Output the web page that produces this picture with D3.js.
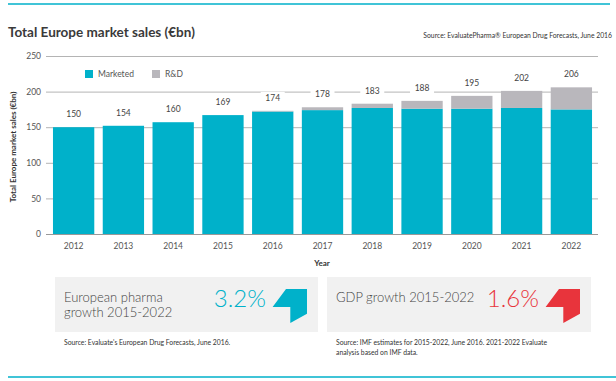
<!DOCTYPE html>
<html>
<head>
<meta charset="utf-8">
<script src="https://cdn.jsdelivr.net/npm/d3@7"></script>
<style>
  body { margin: 0; background: #fff; }
  svg { display: block; font-family: Lato, "Open Sans", sans-serif; }
</style>
</head>
<body>
<svg id="chart" width="616" height="381"></svg>
<script>
const years = ['2012','2013','2014','2015','2016','2017','2018','2019','2020','2021','2022'];
const marketed = [150, 152, 157, 167, 172, 174, 177, 176, 176, 177, 175];
const rnd = [0, 0, 0, 0, 1, 4, 6, 11, 18, 24, 31];
const totals = [150, 154, 160, 169, 174, 178, 183, 188, 195, 202, 206];
const yTicks = [0, 50, 100, 150, 200, 250];
const seriesNames = ['Marketed', 'R&D'];
const colors = ['#00b1ca', '#b9b7bc'];

const svg = d3.select('#chart');

// top and bottom rules
svg.append('line').attr('x1', 8).attr('x2', 610).attr('y1', 4).attr('y2', 4)
  .attr('stroke', '#00b1ca').attr('stroke-width', 1.5);
svg.append('line').attr('x1', 8).attr('x2', 616).attr('y1', 377).attr('y2', 377)
  .attr('stroke', '#00b1ca').attr('stroke-width', 1.5);

svg.append('text').attr('x', 8).attr('y', 37)
  .style('font-size', '13.5px').style('font-weight', 'bold').attr('fill', '#3a3a3a')
  .text('Total Europe market sales (€bn)');
svg.append('text').attr('x', 612).attr('y', 37.5).attr('text-anchor', 'end')
  .style('font-size', '6.8px').attr('fill', '#333')
  .text('Source: EvaluatePharma® European Drug Forecasts, June 2016');

const x = d3.scaleBand().domain(years).range([47, 598])
  .paddingInner(0.17).paddingOuter(0.12);
const y = d3.scaleLinear().domain([0, 250]).range([234, 56]);

const yAxis = d3.axisLeft(y).tickValues(yTicks).tickSize(-(598 - 46)).tickPadding(5);
const gy = svg.append('g').attr('transform', 'translate(46,0)').call(yAxis);
gy.select('.domain').remove();
gy.selectAll('line').attr('stroke', '#b4b4b4');
gy.selectAll('text').attr('fill', '#555').style('font-size', '8.5px')
  .style('font-family', 'Lato, sans-serif');

const stack = d3.stack().keys([0, 1])(years.map((yr, i) => [marketed[i], rnd[i]]));
svg.append('g').selectAll('g').data(stack).join('g')
  .attr('fill', (d, i) => colors[i])
  .selectAll('rect').data(d => d).join('rect')
  .attr('x', (d, i) => x(years[i]))
  .attr('width', x.bandwidth())
  .attr('y', d => y(d[1]))
  .attr('height', d => y(d[0]) - y(d[1]));

const xAxis = d3.axisBottom(x).tickSize(0).tickPadding(9);
const gx = svg.append('g').attr('transform', 'translate(0,234)').call(xAxis);
gx.select('.domain').attr('stroke', '#999').attr('d', 'M46,0.5H598');
gx.selectAll('text').attr('fill', '#555').style('font-size', '8.5px')
  .style('font-family', 'Lato, sans-serif');

svg.append('text').attr('x', 322).attr('y', 266).attr('text-anchor', 'middle')
  .style('font-size', '8px').style('font-weight', 'bold').attr('fill', '#333').text('Year');
svg.append('text').attr('transform', 'translate(16,147) rotate(-90)').attr('text-anchor', 'middle')
  .style('font-size', '8px').style('font-weight', 'bold').attr('fill', '#333')
  .text('Total Europe market sales (€bn)');

// value labels with white backing
const lbl = svg.append('g').selectAll('g').data(totals).join('g')
  .attr('transform', (d, i) => `translate(${x(years[i]) + x.bandwidth() / 2},${y(marketed[i] + rnd[i]) - 10})`);
lbl.append('rect').attr('x', -12).attr('y', -9).attr('width', 24).attr('height', 12).attr('fill', '#fff');
lbl.append('text').attr('text-anchor', 'middle').style('font-size', '8.5px').attr('fill', '#444')
  .text(d => d);

// legend
const leg = svg.append('g').selectAll('g').data(seriesNames).join('g')
  .attr('transform', (d, i) => `translate(${85 + i * 67},70)`);
leg.append('rect').attr('width', 8).attr('height', 8).attr('fill', (d, i) => colors[i]);
leg.append('text').attr('x', 13).attr('y', 7).style('font-size', '8.5px').attr('fill', '#555').text(d => d);

// growth boxes
const boxes = [
  { x: 55, w: 263, lines: ['European pharma', 'growth 2015-2022'], val: '3.2%', color: '#00b1ca', valEnd: 266, arrowX: 307,
    src: ["Source: Evaluate's European Drug Forecasts, June 2016."] },
  { x: 327, w: 264, lines: ['GDP growth 2015-2022'], val: '1.6%', color: '#e8343c', valEnd: 539, arrowX: 580,
    src: ['Source: IMF estimates for 2015-2022, June 2016. 2021-2022 Evaluate', 'analysis based on IMF data.'] }
];
const arrowShape = [[-21, 0], [0, 0], [0, 24.7], [-16.7, 34], [-16.7, 18], [-34.4, 18]];
boxes.forEach(b => {
  svg.append('rect').attr('x', b.x).attr('y', 277).attr('width', b.w).attr('height', 55).attr('fill', '#f1f1f1');
  b.lines.forEach((t, i) => {
    svg.append('text').attr('x', b.x + 9).attr('y', 301.5 + i * 15.5)
      .style('font-size', '13px').style('font-weight', 300).attr('fill', '#444').text(t);
  });
  svg.append('text').attr('x', b.valEnd).attr('y', 306.5).attr('text-anchor', 'end')
    .style('font-size', '24px').style('font-weight', 300).attr('fill', b.color).text(b.val);
  svg.append('path').attr('fill', b.color)
    .attr('d', d3.line()(arrowShape.map(p => [b.arrowX + p[0], 289 + p[1]])) + 'Z');
  b.src.forEach((t, i) => {
    svg.append('text').attr('x', b.x + 9).attr('y', 344.5 + i * 10)
      .style('font-size', '6.8px').attr('fill', '#333').text(t);
  });
});
</script>
</body>
</html>
